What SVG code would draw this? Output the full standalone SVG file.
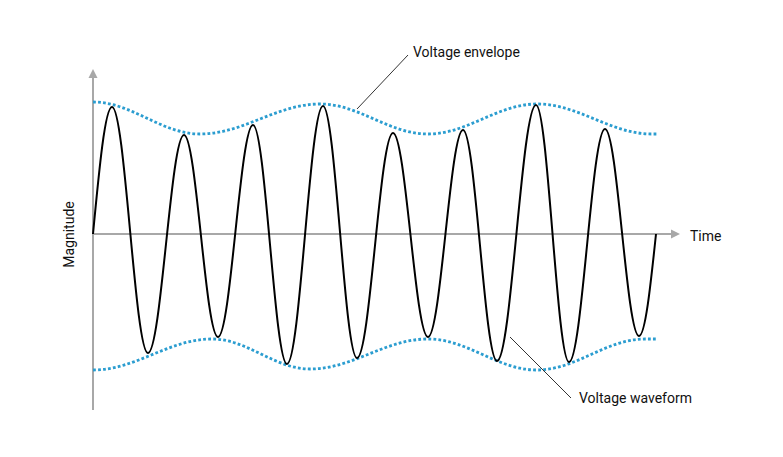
<svg xmlns="http://www.w3.org/2000/svg" width="783" height="457" viewBox="0 0 783 457">
<style>
.axis{stroke:#a8a8a8;stroke-width:2;fill:none}
.head{fill:#a8a8a8}
.env{fill:none;stroke:#2b9dd0;stroke-width:2.8;stroke-dasharray:2.8 2.2}
.wave{fill:none;stroke:#000;stroke-width:2;stroke-linejoin:round}
.lead{stroke:#333;stroke-width:1;fill:none}
.lbl{font-family:Roboto,"Liberation Sans",sans-serif;font-size:14px;fill:#111}
</style>
<rect width="783" height="457" fill="#fff"/>
<g id="axes">
<line class="axis" x1="93" y1="76" x2="93" y2="410"/>
<polygon class="head" points="93,69 88.5,78 97.5,78"/>
<line class="axis" x1="93" y1="234" x2="672" y2="234"/>
<polygon class="head" points="680,234 671,229.5 671,238.5"/>
<text class="lbl" x="690" y="240.5">Time</text>
<text class="lbl" transform="translate(74,234.5) rotate(-90)" text-anchor="middle">Magnitude</text>
</g>
<g id="upper-envelope">
<path class="env" d="M93,102 C132,102 161,134 200,134 C243.7,134 276.3,104 320,104 C359.3,104 388.7,134 428,134 C467.7,134 497.3,104 537,104 C578.9,104 610.1,134 652,134 L657,134"/>
</g>
<g id="lower-envelope">
<path class="env" d="M93,370 C136.3,370 168.7,339 212,339 C247.7,339 274.3,369 310,369 C353,369 385,339 428,339 C467.7,339 497.3,370 537,370 C576.3,370 605.7,339 645,339 L656,339"/>
</g>
<g id="waveform">
<path class="wave" d="M93,234 C99.2,168.9 105.1,107 112,107 C125.1,107 134.9,353 148,353 C161.1,353 170.9,135 184,135 C196.4,135 205.6,337 218,337 C230.7,337 240.3,125 253,125 C265.4,125 274.6,364 287,364 C300.1,364 309.9,106 323,106 C335.4,106 344.6,358 357,358 C370.1,358 379.9,133 393,133 C405.7,133 415.3,337 428,337 C440.7,337 450.3,130 463,130 C475.4,130 484.6,361 497,361 C511.2,361 521.8,105 536,105 C548,105 557,362 569,362 C582.1,362 591.9,129 605,129 C617.4,129 626.6,336 639,336 C645.2,336 650.5,286.3 656,234"/>
</g>
<g id="connectors">
<line class="lead" x1="357" y1="109" x2="408" y2="55"/>
<line class="lead" x1="510" y1="337" x2="571" y2="398"/>
</g>
<g id="label-envelope">
<text class="lbl" x="413" y="57">Voltage envelope</text>
</g>
<g id="label-waveform">
<text class="lbl" x="579" y="403">Voltage waveform</text>
</g>
</svg>
